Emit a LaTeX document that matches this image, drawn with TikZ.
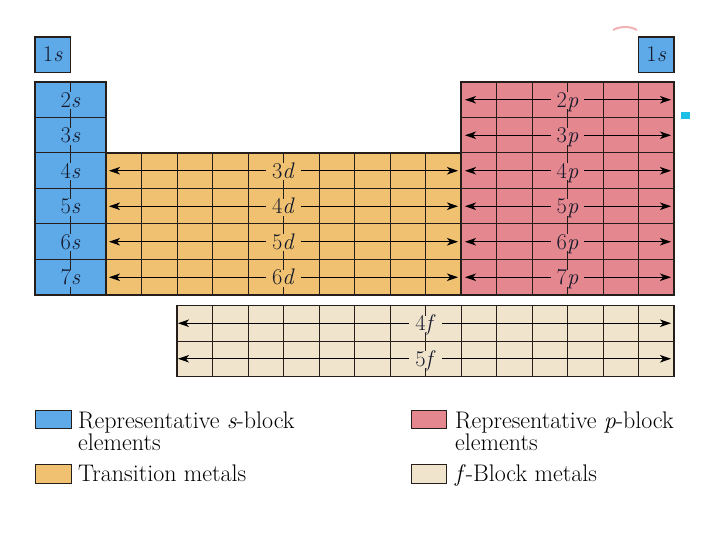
\documentclass[tikz,border=0pt]{standalone}
\usepackage{fontspec}
\usetikzlibrary{arrows.meta}
\definecolor{sblue}{RGB}{94,170,232}
\definecolor{dorange}{RGB}{240,193,112}
\definecolor{ppink}{RGB}{228,135,143}
\definecolor{fbeige}{RGB}{241,228,204}
\definecolor{gridc}{RGB}{38,30,26}
\definecolor{labc}{RGB}{22,26,44}
\definecolor{dotcyan}{RGB}{30,190,230}
\definecolor{arcpink}{RGB}{242,178,182}
\tikzset{
  gridline/.style={draw=gridc, line width=1pt},
  border/.style={draw=gridc, line width=1.4pt},
  lab/.style={anchor=base, font=\fontsize{22.5}{22.5}\selectfont, text=labc,
    inner xsep=6pt, inner ysep=0pt, text height=15pt, text depth=2pt},
  arr/.style={draw=black, line width=1pt,
    {Stealth[length=11pt,width=7.5pt,inset=3pt]}-{Stealth[length=11pt,width=7.5pt,inset=3pt]}},
  legbox/.style={draw=gridc, line width=1pt},
  legtext/.style={anchor=base west, font=\fontsize{24}{24}\selectfont, inner sep=0pt}
}
\begin{document}
\begin{tikzpicture}[x=1pt,y=-1pt]
\useasboundingbox (0,0) rectangle (720,540);
\fill[white] (0,0) rectangle (720,540);

% ---- fills
\fill[sblue] (35,37) rectangle (70.5,72.5);
\fill[sblue] (638.5,37) rectangle (674,72.5);
\fill[sblue] (35,82) rectangle (106,295);
\fill[dorange] (106,153) rectangle (461,295);
\fill[ppink] (461,82) rectangle (674,295);
\fill[fbeige] (177,305.5) rectangle (674,376.5);

% ---- grid lines
% s-block
\foreach \y in {117.5,153,188.5,224,259.5} \draw[gridline] (35,\y) -- (106,\y);
\draw[gridline] (70.5,82) -- (70.5,295);
% d-block
\foreach \i in {3,...,11} \draw[gridline] ({35+35.5*\i},153) -- ({35+35.5*\i},295);
\foreach \y in {188.5,224,259.5} \draw[gridline] (106,\y) -- (461,\y);
% p-block
\foreach \i in {13,...,17} \draw[gridline] ({35+35.5*\i},82) -- ({35+35.5*\i},295);
\foreach \y in {117.5,153,188.5,224,259.5} \draw[gridline] (461,\y) -- (674,\y);
% f-block
\foreach \i in {5,...,17} \draw[gridline] ({35+35.5*\i},305.5) -- ({35+35.5*\i},376.5);
\draw[gridline] (177,341) -- (674,341);

% ---- borders
\draw[border] (35,37) rectangle (70.5,72.5);
\draw[border] (638.5,37) rectangle (674,72.5);
\draw[border] (35,82) rectangle (106,295);
\draw[border] (106,153) rectangle (461,295);
\draw[border] (461,82) rectangle (674,295);
\draw[border] (177,305.5) rectangle (674,376.5);

% ---- arrows
\foreach \n/\y in {3/170.75,4/206.25,5/241.75,6/277.25}{
  \coordinate (dL\n) at (109,\y);
  \coordinate (dR\n) at (458,\y);
  \draw[arr] (dL\n) -- (dR\n);
}
\foreach \n/\y in {2/99.75,3/135.25,4/170.75,5/206.25,6/241.75,7/277.25}{
  \coordinate (pL\n) at (465,\y);
  \coordinate (pR\n) at (671,\y);
  \draw[arr] (pL\n) -- (pR\n);
}
\foreach \n/\y in {4/323.25,5/358.75}{
  \coordinate (fL\n) at (178,\y);
  \coordinate (fR\n) at (671,\y);
  \draw[arr] (fL\n) -- (fR\n);
}

% ---- labels
\node[lab, fill=sblue] (s1a) at (52.75,62) {1\textit{s}};
\node[lab, fill=sblue] (s1b) at (656.25,62) {1\textit{s}};
\foreach \n/\y in {2/99.75,3/135.25,4/170.75,5/206.25,6/241.75,7/277.25}
  \node[lab, fill=sblue] (s\n) at (70.5,\y+7.5) {\n\textit{s}};
\foreach \n/\y in {3/170.75,4/206.25,5/241.75,6/277.25}
  \node[lab, fill=dorange] (d\n) at (283.5,\y+7.5) {\n\textit{d}};
\foreach \n/\y in {2/99.75,3/135.25,4/170.75,5/206.25,6/241.75,7/277.25}
  \node[lab, fill=ppink] (p\n) at (567.5,\y+7.5) {\n\textit{p}};
\foreach \n/\y in {4/323.25,5/358.75}
  \node[lab, fill=fbeige] (f\n) at (425.5,\y+7.5) {\n\textit{f}};

% ---- decorations seen in the reference
\fill[dotcyan] (681,112) rectangle (690,119);
\draw[arcpink, line width=2pt] (613,30) .. controls (620,26) and (630,26) .. (637,30);

% ---- legend
\filldraw[legbox, fill=sblue] (35,410) rectangle (71,428);
\filldraw[legbox, fill=dorange] (35,464.5) rectangle (71,483);
\filldraw[legbox, fill=ppink] (411,410) rectangle (446,428);
\filldraw[legbox, fill=fbeige] (411,464.5) rectangle (446,483);
\node[legtext] (t1) at (78,428) {Representative \textit{s}-block};
\node[legtext] (t1b) at (78,450) {elements};
\node[legtext] (t2) at (78,481) {Transition metals};
\node[legtext] (t3) at (455,428) {Representative \textit{p}-block};
\node[legtext] (t3b) at (455,450) {elements};
\node[legtext] (t4) at (455,481) {\textit{f}-Block metals};
\end{tikzpicture}
\end{document}
